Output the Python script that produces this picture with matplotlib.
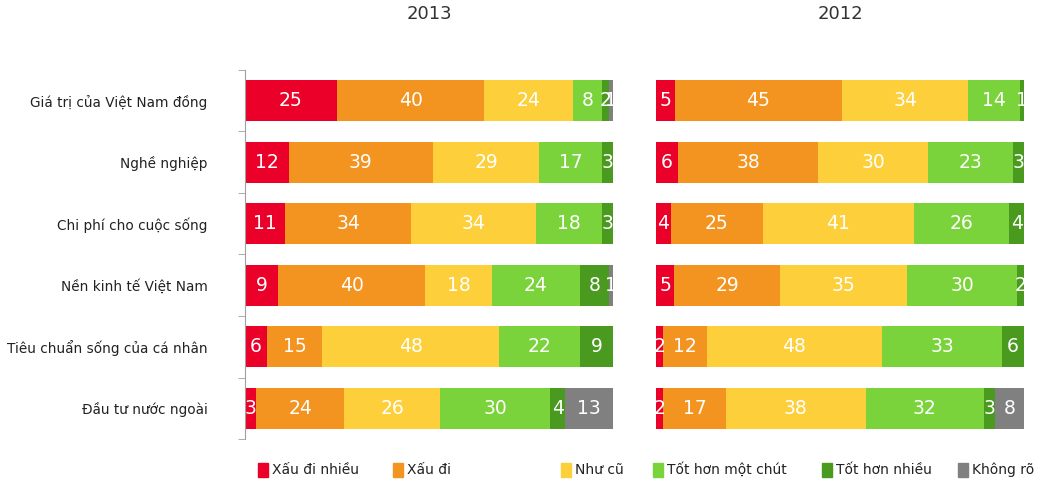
import matplotlib
matplotlib.use("Agg")
import matplotlib.pyplot as plt
import numpy as np
from matplotlib.patches import Rectangle

# du lieu
categories = ["Giá trị của Việt Nam đồng", "Nghề nghiệp", "Chi phí cho cuộc sống",
              "Nền kinh tế Việt Nam", "Tiêu chuẩn sống của cá nhân", "Đầu tư nước ngoài"]
series = ["Xấu đi nhiều", "Xấu đi", "Như cũ", "Tốt hơn một chút", "Tốt hơn nhiều", "Không rõ"]
colors = ["#EA0029", "#F39320", "#FDCF3B", "#7AD33A", "#4A9A1F", "#808080"]

# moi hang: gia tri cua tung nhom
vals_2013 = [[25, 40, 24, 8, 2, 1],
             [12, 39, 29, 17, 3, 0],
             [11, 34, 34, 18, 3, 0],
             [9, 40, 18, 24, 8, 1],
             [6, 15, 48, 22, 9, 0],
             [3, 24, 26, 30, 4, 13]]
vals_2012 = [[5, 45, 34, 14, 1, 0],
             [6, 38, 30, 23, 3, 0],
             [4, 25, 41, 26, 4, 0],
             [5, 29, 35, 30, 2, 0],
             [2, 12, 48, 33, 6, 0],
             [2, 17, 38, 32, 3, 8]]
years = ["2013", "2012"]

fig = plt.figure(figsize=(10.56, 4.98), dpi=100)
ax1 = fig.add_axes([245/1056, 59/498, 368/1056, 369/498])
ax2 = fig.add_axes([656/1056, 59/498, 368/1056, 369/498])

def draw(ax, data):
    data = np.array(data, dtype=float)
    pct = data / data.sum(axis=1, keepdims=True) * 100
    y = np.arange(len(categories))
    left = np.zeros(len(categories))
    for j in range(len(series)):
        ax.barh(y, pct[:, j], left=left, height=0.67, color=colors[j], linewidth=0)
        for i in range(len(categories)):
            if data[i, j] > 0:
                ax.text(left[i] + pct[i, j] / 2, y[i], "%d" % data[i, j], color="white",
                        ha="center", va="center", fontsize=13.5, clip_on=True)
        left += pct[:, j]
    ax.set_xlim(0, 100)
    ax.set_ylim(len(categories) - 0.5, -0.5)
    ax.set_xticks([])
    for s in ["top", "right", "bottom", "left"]:
        ax.spines[s].set_visible(False)

draw(ax1, vals_2013)
draw(ax2, vals_2012)

# tieu de
fig.text((245 + 184) / 1056, 1 - 14 / 498, years[0], ha="center", va="center", fontsize=13, color="#333333")
fig.text((656 + 184) / 1056, 1 - 14 / 498, years[1], ha="center", va="center", fontsize=13, color="#333333")

# truc trai
ax1.spines["left"].set_visible(True)
ax1.spines["left"].set_color("#A0A0A0")
ax1.set_yticks(np.arange(len(categories)))
ax1.set_yticklabels(categories, fontsize=9.8, color="#222222")
ax1.tick_params(axis="y", which="major", length=0, pad=27)
ax1.set_yticks(np.arange(len(categories) + 1) - 0.5, minor=True)
ax1.tick_params(axis="y", which="minor", length=5, color="#A0A0A0", direction="out")
ax2.set_yticks([])

# chu giai
leg_x = [258, 393, 561, 653, 822, 958]
for j, name in enumerate(series):
    fig.patches.append(Rectangle((leg_x[j] / 1056, 1 - 477 / 498), 10 / 1056, 14 / 498,
                                 transform=fig.transFigure, color=colors[j]))
    fig.text((leg_x[j] + 14) / 1056, 1 - 470 / 498, name, ha="left", va="center",
             fontsize=10, color="#222222")

fig.savefig("out.png", dpi=100)
